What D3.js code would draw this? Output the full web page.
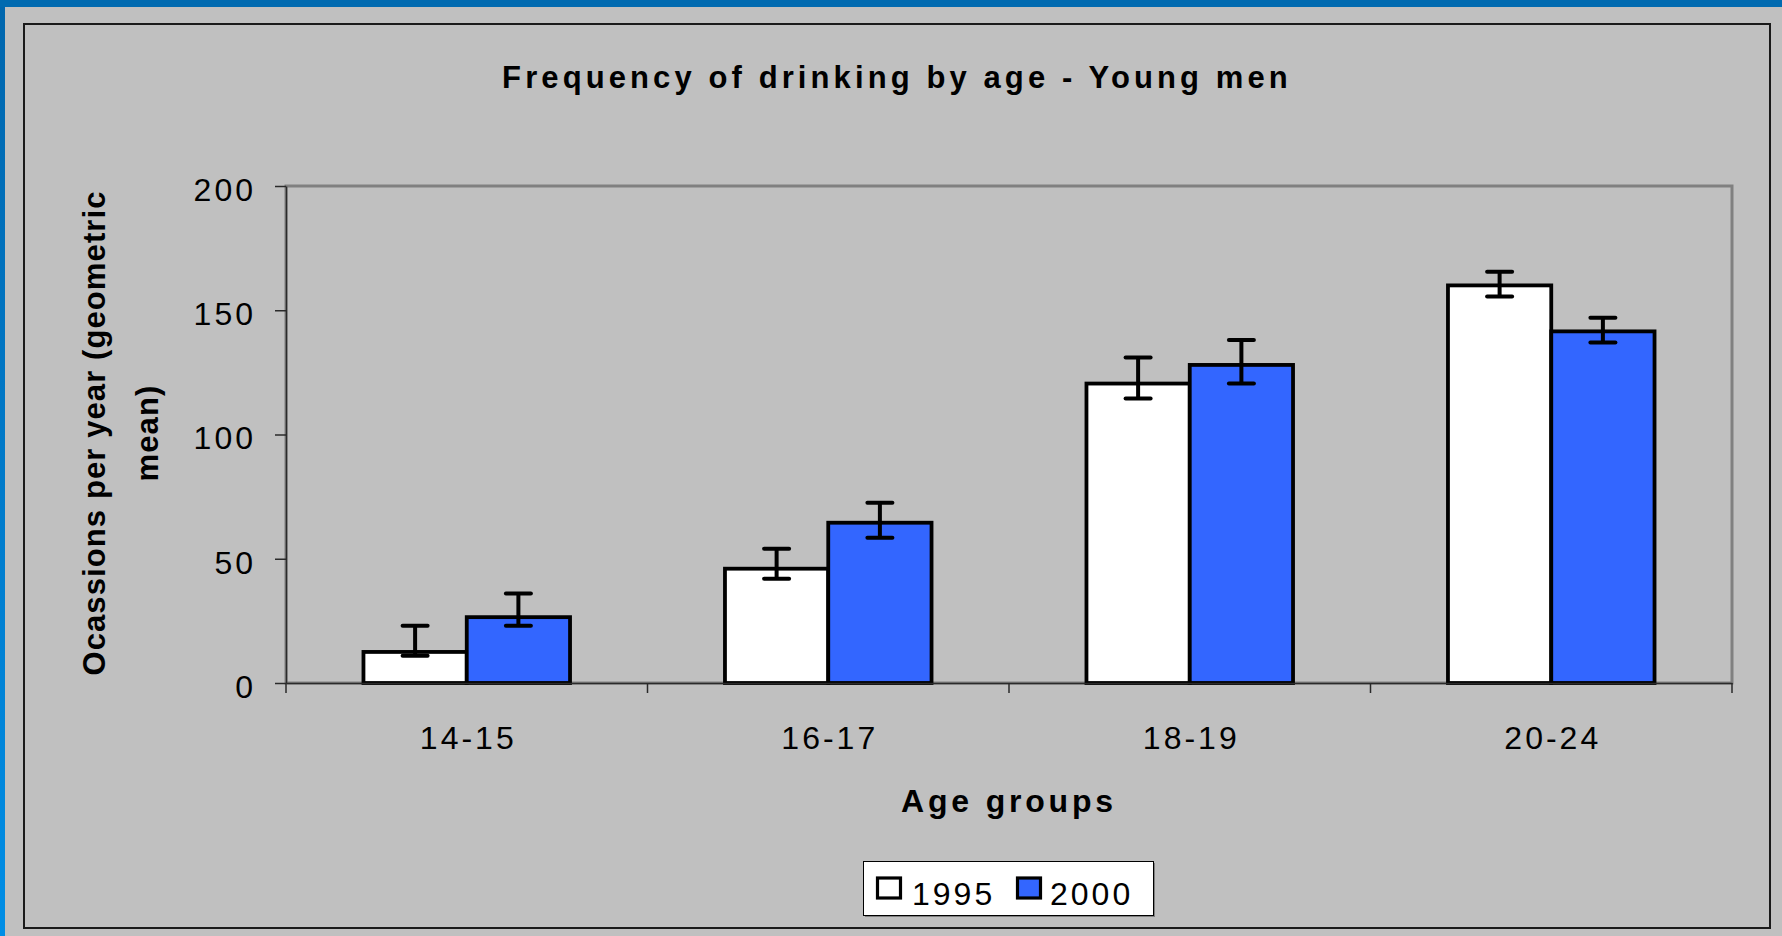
<!DOCTYPE html>
<html>
<head>
<meta charset="utf-8">
<script src="https://cdn.jsdelivr.net/npm/d3@7"></script>
<style>
  html, body { margin: 0; padding: 0; background: #c0c0c0; overflow: hidden; }
  svg { display: block; }
  text { font-family: "Liberation Sans", Arial, Helvetica, sans-serif; fill: #000; }
</style>
</head>
<body>
<svg id="chart" width="1782" height="936"></svg>
<script>
// ---- data ----
const categories = ["14-15", "16-17", "18-19", "20-24"];
const seriesNames = ["1995", "2000"];
const values1995 = [12.5, 46, 120.5, 160];
const values2000 = [26.5, 64.5, 128, 141.5];
const low1995 = [11, 42, 114.5, 155.5];
const high1995 = [23, 54, 131, 165.5];
const low2000 = [23, 58.5, 120.5, 137];
const high2000 = [36, 72.5, 138, 147];
const yTicks = [0, 50, 100, 150, 200];
const titleText = "Frequency of drinking by age - Young men";
const yTitleLines = ["Ocassions per year (geometric", "mean)"];
const xTitleText = "Age groups";
const seriesColors = ["#ffffff", "#3366ff"];

const rows = categories.map((c, i) => ({
  cat: c,
  vals: [
    { s: seriesNames[0], v: values1995[i], lo: low1995[i], hi: high1995[i] },
    { s: seriesNames[1], v: values2000[i], lo: low2000[i], hi: high2000[i] }
  ]
}));

const svg = d3.select("#chart");
const W = 1782, H = 936;

// page frame
const defs = svg.append("defs");
const grad = defs.append("linearGradient").attr("id", "leftGrad")
  .attr("x1", 0).attr("y1", 0).attr("x2", 0).attr("y2", 1);
grad.append("stop").attr("offset", "0%").attr("stop-color", "#0066ad");
grad.append("stop").attr("offset", "100%").attr("stop-color", "#008ee6");

svg.append("rect").attr("x", 0).attr("y", 0).attr("width", W).attr("height", H).attr("fill", "#c0c0c0");
svg.append("rect").attr("x", 0).attr("y", 0).attr("width", 5).attr("height", H).attr("fill", "url(#leftGrad)");
svg.append("rect").attr("x", 0).attr("y", 0).attr("width", W).attr("height", 7).attr("fill", "#006ab0");

// chart area border
svg.append("rect").attr("x", 24).attr("y", 24).attr("width", 1770 - 24).attr("height", 928 - 24)
  .attr("fill", "none").attr("stroke", "#1a1a1a").attr("stroke-width", 2);

// plot geometry
const pl = 286, pr = 1732, pt = 186, pb = 683;

const x0 = d3.scaleBand().domain(categories).range([pl, pr])
  .paddingInner(1.5 / 3.5).paddingOuter(0.75 / 3.5);
const x1 = d3.scaleBand().domain(seriesNames).range([0, x0.bandwidth()]).padding(0);
const y = d3.scaleLinear().domain([0, 200]).range([pb, pt]);
const color = d3.scaleOrdinal().domain(seriesNames).range(seriesColors);

// plot area border
svg.append("rect").attr("x", pl).attr("y", pt).attr("width", pr - pl).attr("height", pb - pt)
  .attr("fill", "none").attr("stroke", "#808080").attr("stroke-width", 3);

// bars
const g = svg.append("g");
const groups = g.selectAll("g.grp").data(rows).join("g").attr("class", "grp")
  .attr("transform", d => `translate(${x0(d.cat)},0)`);

groups.selectAll("rect").data(d => d.vals).join("rect")
  .attr("x", d => x1(d.s))
  .attr("y", d => y(d.v))
  .attr("width", x1.bandwidth())
  .attr("height", d => y(0) - y(d.v))
  .attr("fill", d => color(d.s))
  .attr("stroke", "#000")
  .attr("stroke-width", 3.8);

// error bars
const capW = 29;
const eb = groups.selectAll("g.eb").data(d => d.vals).join("g").attr("class", "eb")
  .attr("transform", d => `translate(${x1(d.s) + x1.bandwidth() / 2},0)`);
eb.append("line").attr("x1", 0).attr("x2", 0)
  .attr("y1", d => y(d.lo)).attr("y2", d => y(d.hi))
  .attr("stroke", "#000").attr("stroke-width", 4);
eb.append("line").attr("x1", -capW / 2 + 2).attr("x2", capW / 2 - 2)
  .attr("y1", d => y(d.hi)).attr("y2", d => y(d.hi))
  .attr("stroke", "#000").attr("stroke-width", 4).attr("stroke-linecap", "round");
eb.append("line").attr("x1", -capW / 2 + 2).attr("x2", capW / 2 - 2)
  .attr("y1", d => y(d.lo)).attr("y2", d => y(d.lo))
  .attr("stroke", "#000").attr("stroke-width", 4).attr("stroke-linecap", "round");

// y axis
const yAxis = d3.axisLeft(y).tickValues(yTicks).tickSize(11).tickSizeOuter(0).tickPadding(19);
const ya = svg.append("g").attr("transform", `translate(${pl},0)`).call(yAxis);
ya.select(".domain").attr("stroke", "#2a2a2a").attr("stroke-width", 1.5);
ya.selectAll(".tick line").attr("stroke", "#2a2a2a").attr("stroke-width", 1.5);
ya.selectAll(".tick text")
  .attr("font-size", 32).attr("letter-spacing", 3).attr("dy", "0.45em")
  .style("font-family", '"Liberation Sans", Arial, sans-serif');

// x axis: labels at band centres, ticks at band boundaries
const xAxis = d3.axisBottom(x0).tickSize(0).tickSizeOuter(0).tickPadding(0);
const xa = svg.append("g").attr("transform", `translate(0,${pb})`).call(xAxis);
xa.select(".domain").attr("stroke", "#2a2a2a").attr("stroke-width", 1.5);
xa.selectAll(".tick text")
  .attr("font-size", 32).attr("letter-spacing", 3).attr("dy", null).attr("y", 66)
  .attr("dx", 1.5)
  .style("font-family", '"Liberation Sans", Arial, sans-serif');
const step = x0.step();
const boundaries = categories.map(c => x0(c) - x0.paddingOuter() * step).concat([pr]);
xa.selectAll("line.bt").data(boundaries).join("line").attr("class", "bt")
  .attr("x1", d => d).attr("x2", d => d).attr("y1", 0).attr("y2", 10)
  .attr("stroke", "#2a2a2a").attr("stroke-width", 1.5);

// title
svg.append("text").attr("x", 897).attr("y", 88)
  .attr("text-anchor", "middle").attr("font-size", 31).attr("font-weight", "bold")
  .attr("letter-spacing", 4.1).text(titleText);

// x title
svg.append("text").attr("x", 1009).attr("y", 812)
  .attr("text-anchor", "middle").attr("font-size", 32).attr("font-weight", "bold")
  .attr("letter-spacing", 3.8).text(xTitleText);

// y title
const yt = svg.append("g").attr("transform", "translate(0,433) rotate(-90)");
yt.append("text").attr("x", 0).attr("y", 104.5)
  .attr("text-anchor", "middle").attr("font-size", 31).attr("font-weight", "bold")
  .attr("letter-spacing", 1.1).text(yTitleLines[0]);
yt.append("text").attr("x", 0).attr("y", 158)
  .attr("text-anchor", "middle").attr("font-size", 31).attr("font-weight", "bold")
  .attr("letter-spacing", 1.1).text(yTitleLines[1]);

// legend
const lg = svg.append("g");
lg.append("rect").attr("x", 865).attr("y", 863).attr("width", 290).attr("height", 54)
  .attr("fill", "#808080");
lg.append("rect").attr("x", 863.5).attr("y", 861.5).attr("width", 290).attr("height", 54)
  .attr("fill", "#ffffff").attr("stroke", "#000").attr("stroke-width", 1);
const legendItems = [
  { s: seriesNames[0], sx: 877.5, tx: 912 },
  { s: seriesNames[1], sx: 1017.5, tx: 1050 }
];
legendItems.forEach(it => {
  lg.append("rect").attr("x", it.sx).attr("y", 878).attr("width", 23).attr("height", 20)
    .attr("fill", color(it.s)).attr("stroke", "#000").attr("stroke-width", 3.2);
  lg.append("text").attr("x", it.tx).attr("y", 905).attr("font-size", 32)
    .attr("letter-spacing", 3).text(it.s);
});
</script>
</body>
</html>
